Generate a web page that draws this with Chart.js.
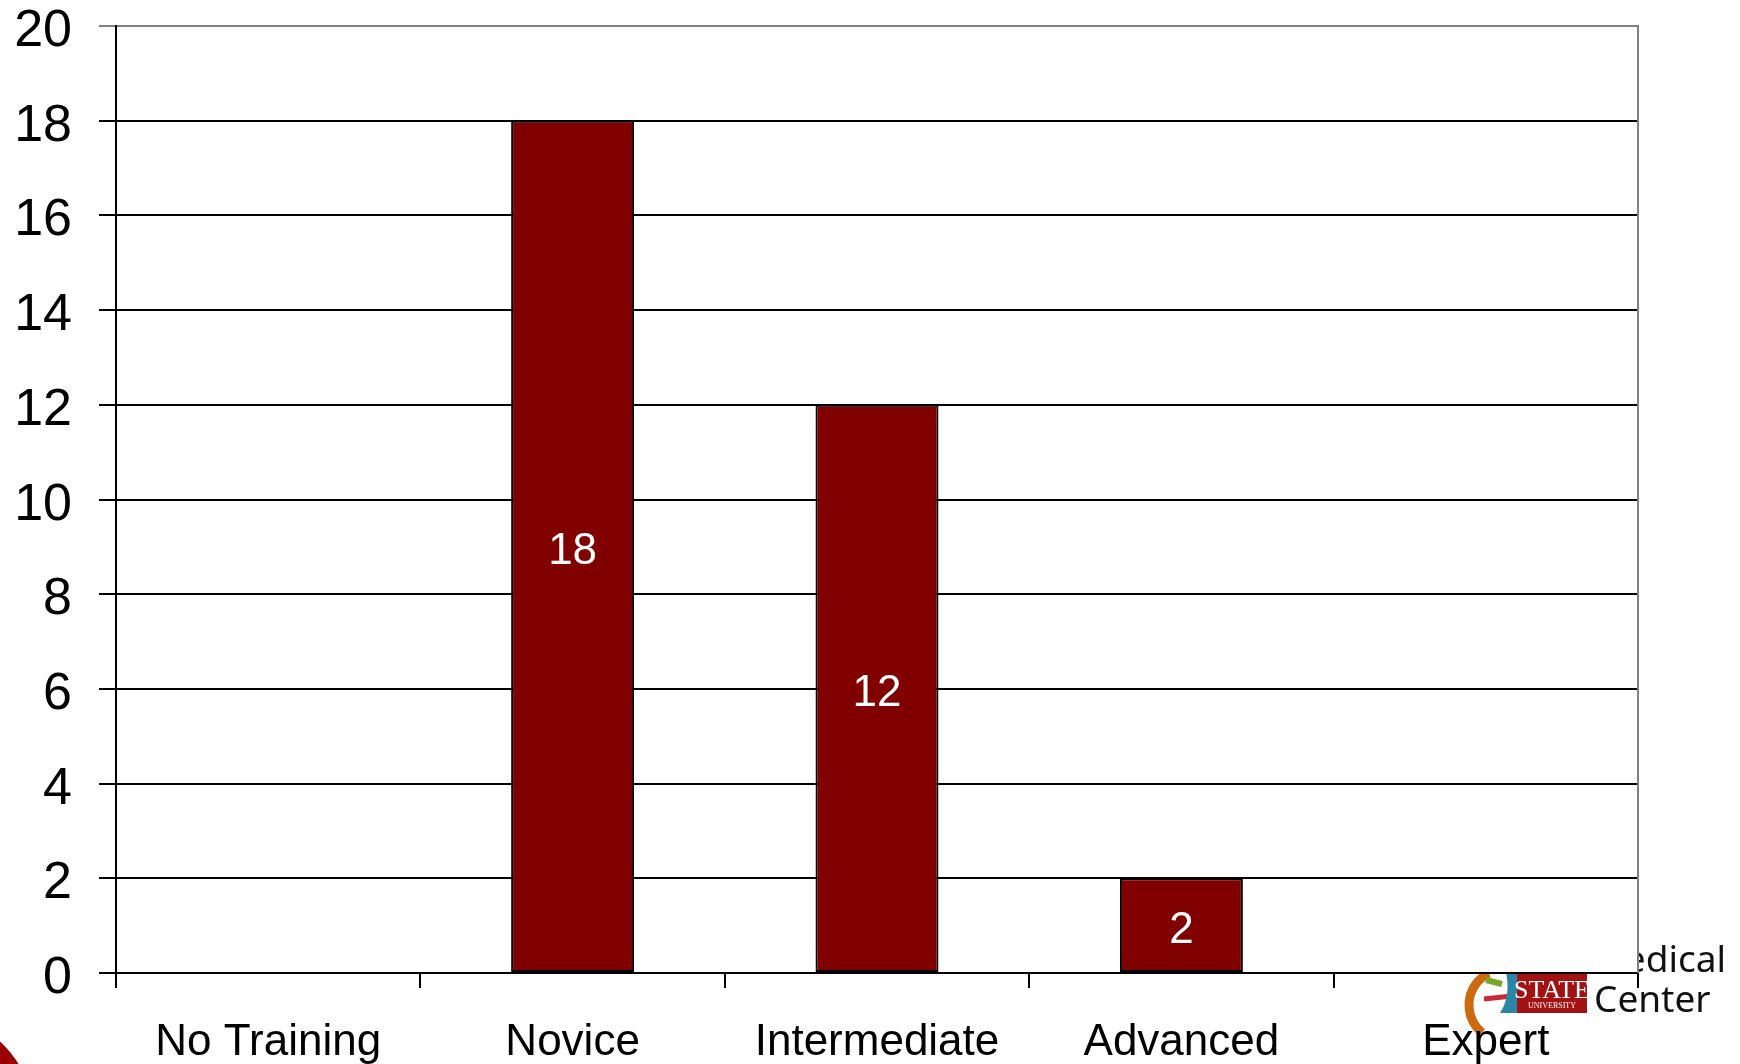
<!DOCTYPE html>
<html>
<head>
<meta charset="utf-8">
<script src="https://cdn.jsdelivr.net/npm/chart.js@4.4.1/dist/chart.umd.min.js"></script>
<style>
  html, body { margin: 0; padding: 0; background: #fff; }
  #wrap { width: 1740px; height: 1064px; position: relative; }
</style>
</head>
<body>
<div id="wrap"><canvas id="trainingChart"></canvas></div>
<script>
// datos del grafico
const categories = ['No Training', 'Novice', 'Intermediate', 'Advanced', 'Expert'];
const counts = [0, 18, 12, 2, 0];
const yTicks = [0, 2, 4, 6, 8, 10, 12, 14, 16, 18, 20];

const FONT = "'Liberation Sans', Arial, sans-serif";

// fondo: esquina roja, logo y area blanca del grafico
const backdropPlugin = {
    id: 'backdrop',
    beforeDraw(chart) {
        const ctx = chart.ctx;
        const area = chart.chartArea;
        ctx.save();
        ctx.fillStyle = '#fff';
        ctx.fillRect(0, 0, chart.width, chart.height);

        // esquina roja abajo a la izquierda
        ctx.fillStyle = '#9a0000';
        ctx.beginPath();
        ctx.arc(-60, 1110, 91, 0, Math.PI * 2);
        ctx.fill();

        // logo (queda parcialmente tapado por el area del grafico)
        ctx.lineCap = 'butt';
        ctx.strokeStyle = '#cc6a10';
        ctx.lineWidth = 9;
        ctx.beginPath();
        ctx.arc(1505, 1005, 36, 0.72 * Math.PI, 1.35 * Math.PI);
        ctx.stroke();

        ctx.strokeStyle = '#78a82a';
        ctx.lineWidth = 6;
        ctx.beginPath();
        ctx.moveTo(1486, 980);
        ctx.lineTo(1502, 984);
        ctx.stroke();

        ctx.strokeStyle = '#c8283a';
        ctx.lineWidth = 5;
        ctx.beginPath();
        ctx.moveTo(1484, 999);
        ctx.lineTo(1512, 996);
        ctx.stroke();

        ctx.fillStyle = '#2a86a6';
        ctx.beginPath();
        ctx.moveTo(1505, 968);
        ctx.lineTo(1517, 968);
        ctx.lineTo(1517, 1013);
        ctx.lineTo(1500, 1013);
        ctx.quadraticCurveTo(1512, 995, 1505, 968);
        ctx.fill();

        ctx.fillStyle = '#a31212';
        ctx.fillRect(1517, 960, 70, 53);
        ctx.fillStyle = '#fff';
        ctx.textAlign = 'center';
        ctx.textBaseline = 'alphabetic';
        ctx.font = "26px 'Liberation Serif', serif";
        ctx.fillText('STATE', 1552, 998);
        ctx.font = "8px 'Liberation Serif', serif";
        ctx.fillText('UNIVERSITY', 1552, 1008);

        ctx.fillStyle = '#111';
        ctx.font = "37px 'Noto Sans', sans-serif";
        ctx.textAlign = 'right';
        ctx.fillText('Medical', 1726, 972);
        ctx.textAlign = 'left';
        ctx.fillText('Center', 1594, 1012);

        ctx.fillStyle = '#fff';
        ctx.fillRect(area.left, area.top, area.right - area.left, area.bottom - area.top);
        ctx.restore();
    },
    afterDraw(chart) {
        const ctx = chart.ctx;
        const area = chart.chartArea;
        const yScale = chart.scales.y;
        ctx.save();
        // borde derecho gris
        ctx.strokeStyle = '#808080';
        ctx.lineWidth = 2;
        ctx.beginPath();
        ctx.moveTo(area.right, area.top - 1);
        ctx.lineTo(area.right, area.bottom);
        ctx.stroke();

        // etiquetas del eje Y (baseline alfabetica para centrar los digitos)
        ctx.fillStyle = '#000';
        ctx.font = '52px ' + FONT;
        ctx.textAlign = 'right';
        ctx.textBaseline = 'alphabetic';
        yTicks.forEach(v => {
            ctx.fillText(String(v), 72, yScale.getPixelForValue(v) + 20);
        });

        // etiquetas de valor dentro de las barras
        const meta = chart.getDatasetMeta(0);
        ctx.fillStyle = '#fff';
        ctx.font = '44px ' + FONT;
        ctx.textAlign = 'center';
        meta.data.forEach((bar, i) => {
            const v = counts[i];
            if (!v) return;
            const p = bar.getProps(['x', 'y', 'base'], true);
            ctx.fillText(String(v), p.x, (p.y + p.base) / 2 + 18);
        });
        ctx.restore();
    }
};

new Chart(document.getElementById('trainingChart'), {
    type: 'bar',
    data: {
        labels: categories,
        datasets: [{
            data: counts,
            backgroundColor: '#800000',
            borderColor: '#000',
            borderWidth: 2,
            borderSkipped: false,
            categoryPercentage: 0.8,
            barPercentage: 0.505
        }]
    },
    options: {
        responsive: true,
        maintainAspectRatio: false,
        animation: false,
        layout: { padding: { top: 26, right: 102, bottom: 0, left: 0 } },
        plugins: { legend: { display: false }, tooltip: { enabled: false } },
        scales: {
            x: {
                offset: true,
                grid: {
                    display: true,
                    drawOnChartArea: false,
                    tickLength: 15,
                    color: '#000',
                    lineWidth: 2,
                    offset: true
                },
                border: { display: true, color: '#000', width: 2 },
                ticks: {
                    color: '#000',
                    padding: 33,
                    maxRotation: 0,
                    autoSkip: false,
                    font: { family: FONT, size: 44, lineHeight: 1 }
                },
                afterFit(scale) {
                    scale.height = 91;
                    scale.paddingLeft = 0;
                    scale.paddingRight = 0;
                }
            },
            y: {
                min: 0,
                max: 20,
                afterBuildTicks(scale) { scale.ticks = yTicks.map(v => ({ value: v })); },
                grid: {
                    color: ctx => (ctx.tick && ctx.tick.value === 20 ? '#808080' : '#000'),
                    lineWidth: 2,
                    tickLength: 17
                },
                border: { display: true, color: '#000', width: 2 },
                ticks: {
                    color: 'rgba(0,0,0,0)',
                    padding: 27,
                    font: { family: FONT, size: 52, lineHeight: 1 }
                },
                afterFit(scale) {
                    scale.width = 116;
                    scale.paddingTop = 0;
                    scale.paddingBottom = 0;
                }
            }
        }
    },
    plugins: [backdropPlugin]
});
</script>
</body>
</html>
